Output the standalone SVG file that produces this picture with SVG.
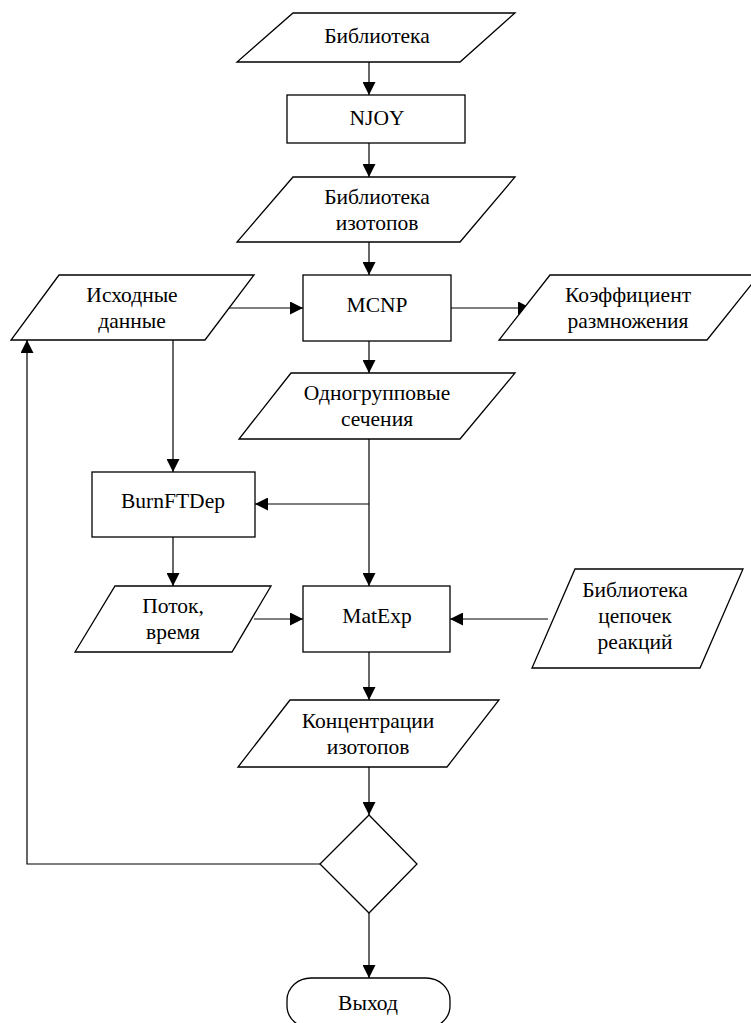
<svg xmlns="http://www.w3.org/2000/svg" width="751" height="1023" viewBox="0 0 751 1023">
<style>
.s{fill:#fff;stroke:#000;stroke-width:1.3}
.c{fill:none;stroke:#000;stroke-width:1.2}
.t{font-family:"Liberation Serif","Times New Roman",serif;font-size:21.5px;fill:#000;text-anchor:middle}
</style>
<defs>
<marker id="ah" markerUnits="userSpaceOnUse" markerWidth="14" markerHeight="13" refX="13" refY="6.5" orient="auto">
<path d="M0,0 L13,6.5 L0,13 z" fill="#000"/>
</marker>
</defs>
<rect width="751" height="1023" fill="#fff"/>
<g id="connectors">
<path class="c" d="M369,62 V95" marker-end="url(#ah)"/>
<path class="c" d="M369,143 V177" marker-end="url(#ah)"/>
<path class="c" d="M369,242 V275" marker-end="url(#ah)"/>
<path class="c" d="M222,308 H303" marker-end="url(#ah)"/>
<path class="c" d="M451,308 H531" marker-end="url(#ah)"/>
<path class="c" d="M369,341 V373" marker-end="url(#ah)"/>
<path class="c" d="M173,340 V472" marker-end="url(#ah)"/>
<path class="c" d="M369,439 V586" marker-end="url(#ah)"/>
<path class="c" d="M369,504 H255" marker-end="url(#ah)"/>
<path class="c" d="M173,537 V586" marker-end="url(#ah)"/>
<path class="c" d="M254,619 H303" marker-end="url(#ah)"/>
<path class="c" d="M548,619 H450" marker-end="url(#ah)"/>
<path class="c" d="M369,652 V700" marker-end="url(#ah)"/>
<path class="c" d="M369,767 V815" marker-end="url(#ah)"/>
<path class="c" d="M320,864 H27 V340" marker-end="url(#ah)"/>
<path class="c" d="M369,913 V978" marker-end="url(#ah)"/>
</g>
<g id="lib">
<polygon class="s" points="293,13 515,13 460,62 237,62"/>
<text class="t" x="377" y="43">Библиотека</text>
</g>
<g id="njoy">
<rect class="s" x="287" y="95" width="178" height="48"/>
<text class="t" x="377" y="125">NJOY</text>
</g>
<g id="libiso">
<polygon class="s" points="293,177 515,177 460,242 237,242"/>
<text class="t" x="377" y="204">Библиотека</text>
<text class="t" x="377" y="230">изотопов</text>
</g>
<g id="input">
<polygon class="s" points="59,275 254,275 205,340 11,340"/>
<text class="t" x="132" y="302">Исходные</text>
<text class="t" x="132" y="328">данные</text>
</g>
<g id="mcnp">
<rect class="s" x="303" y="275" width="148" height="66"/>
<text class="t" x="377" y="312">MCNP</text>
</g>
<g id="keff">
<polygon class="s" points="550,275 759,275 707,340 499,340"/>
<text class="t" x="628" y="302">Коэффициент</text>
<text class="t" x="628" y="328">размножения</text>
</g>
<g id="xs">
<polygon class="s" points="291,373 515,373 460,439 239,439"/>
<text class="t" x="377" y="400">Одногрупповые</text>
<text class="t" x="377" y="426">сечения</text>
</g>
<g id="burn">
<rect class="s" x="92" y="472" width="163" height="65"/>
<text class="t" x="173" y="508">BurnFTDep</text>
</g>
<g id="flux">
<polygon class="s" points="115,586 271,586 232,652 75,652"/>
<text class="t" x="173" y="613">Поток,</text>
<text class="t" x="173" y="639">время</text>
</g>
<g id="matexp">
<rect class="s" x="303" y="586" width="147" height="66"/>
<text class="t" x="377" y="623">MatExp</text>
</g>
<g id="chains">
<polygon class="s" points="575,569 743,569 700,668 532,668"/>
<text class="t" x="635" y="597">Библиотека</text>
<text class="t" x="635" y="623">цепочек</text>
<text class="t" x="635" y="649">реакций</text>
</g>
<g id="conc">
<polygon class="s" points="290,700 499,700 447,767 238,767"/>
<text class="t" x="368" y="728">Концентрации</text>
<text class="t" x="368" y="754">изотопов</text>
</g>
<g id="decision">
<polygon class="s" points="369,815 417,864 369,913 320,864"/>
</g>
<g id="exit">
<rect class="s" x="287" y="978" width="163" height="50" rx="24" ry="22"/>
<text class="t" x="368" y="1010">Выход</text>
</g>
</svg>
